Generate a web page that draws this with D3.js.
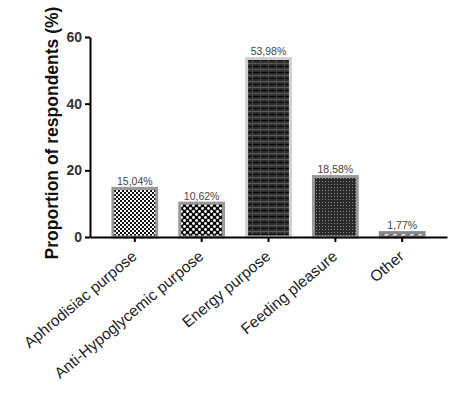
<!DOCTYPE html>
<html>
<head>
<meta charset="utf-8">
<script src="https://cdn.jsdelivr.net/npm/d3@7"></script>
<style>
	body { margin: 0; background: #fff; }
	svg { display: block; font-family: 'Liberation Sans', Arial, sans-serif; }
</style>
</head>
<body>
<svg id="chart" width="451" height="397"></svg>
<script>
// data
const categories = ['Aphrodisiac purpose', 'Anti-Hypoglycemic purpose', 'Energy purpose', 'Feeding pleasure', 'Other'];
const values = [15.04, 10.62, 53.98, 18.58, 1.77];
const valueLabels = ['15,04%', '10,62%', '53,98%', '18,58%', '1,77%'];
const yTicks = [0, 20, 40, 60];
const patternIds = ['checker', 'dots', 'grid', 'fine', 'stripes'];
const borderColors = ['#9a9a9a', '#9a9a9a', '#cfcfcf', '#9a9a9a', '#8a8a8a'];

const svg = d3.select('#chart');
const [plotLeft, plotRight, plotTop, plotBottom] = [90, 447, 37, 237];

const x = d3.scaleBand(categories, [plotLeft, plotRight]).paddingInner(0.3).paddingOuter(0.32);
const y = d3.scaleLinear([0, 60], [plotBottom, plotTop]);

// 막대 채우기 패턴
const defs = svg.append('defs');

const p1 = defs.append('pattern').attr('id', 'checker').attr('patternUnits', 'userSpaceOnUse').attr('width', 4).attr('height', 4);
p1.append('rect').attr('width', 4).attr('height', 4).attr('fill', '#fff');
p1.append('rect').attr('width', 2).attr('height', 2).attr('fill', '#111');
p1.append('rect').attr('x', 2).attr('y', 2).attr('width', 2).attr('height', 2).attr('fill', '#111');

const p2 = defs.append('pattern').attr('id', 'dots').attr('patternUnits', 'userSpaceOnUse').attr('width', 6).attr('height', 6);
p2.append('rect').attr('width', 6).attr('height', 6).attr('fill', '#0a0a0a');
p2.append('circle').attr('cx', 1.5).attr('cy', 1.5).attr('r', 1.4).attr('fill', '#fff');
p2.append('circle').attr('cx', 4.5).attr('cy', 4.5).attr('r', 1.4).attr('fill', '#fff');

const p3 = defs.append('pattern').attr('id', 'grid').attr('patternUnits', 'userSpaceOnUse').attr('width', 8).attr('height', 6);
p3.append('rect').attr('width', 8).attr('height', 6).attr('fill', '#2e2e2e');
p3.append('rect').attr('y', 0).attr('width', 8).attr('height', 1).attr('fill', '#050505');
p3.append('rect').attr('y', 3).attr('width', 8).attr('height', 1).attr('fill', '#5a5a5a');
p3.append('rect').attr('x', 4).attr('width', 1).attr('height', 6).attr('fill', '#4a4a4a');

const p4 = defs.append('pattern').attr('id', 'fine').attr('patternUnits', 'userSpaceOnUse').attr('width', 3).attr('height', 3);
p4.append('rect').attr('width', 3).attr('height', 3).attr('fill', '#2a2a2a');
p4.append('rect').attr('x', 1).attr('y', 1).attr('width', 1).attr('height', 1).attr('fill', '#8a8a8a');

const p5 = defs.append('pattern').attr('id', 'stripes').attr('patternUnits', 'userSpaceOnUse').attr('width', 6).attr('height', 6)
	.attr('patternTransform', 'rotate(45)');
p5.append('rect').attr('width', 6).attr('height', 6).attr('fill', '#6e6e6e');
p5.append('rect').attr('width', 2.5).attr('height', 6).attr('fill', '#fff');

// bars
const bars = svg.append('g').selectAll('g').data(categories).join('g');
bars.append('rect')
	.attr('x', d => x(d) + 1.5)
	.attr('y', (d, i) => y(values[i]) + 1.5)
	.attr('width', x.bandwidth() - 3)
	.attr('height', (d, i) => plotBottom - y(values[i]) - 1.5)
	.attr('fill', (d, i) => `url(#${patternIds[i]})`)
	.attr('stroke', (d, i) => borderColors[i])
	.attr('stroke-width', 3);

bars.append('text')
	.attr('x', d => x(d) + x.bandwidth() / 2)
	.attr('y', (d, i) => y(values[i]) - 2)
	.attr('text-anchor', 'middle')
	.attr('font-size', 10.5)
	.attr('fill', '#444')
	.text((d, i) => valueLabels[i]);

// y axis
const yAxis = svg.append('g')
	.attr('transform', `translate(${plotLeft},0)`)
	.call(d3.axisLeft(y).tickValues(yTicks).tickSize(5).tickSizeOuter(0).tickPadding(3));
yAxis.select('.domain').attr('stroke', '#000').attr('stroke-width', 2);
yAxis.selectAll('.tick line').attr('stroke', '#000').attr('stroke-width', 2);
yAxis.selectAll('.tick text').attr('font-size', 14).attr('font-weight', 'bold').attr('fill', '#333').attr('font-family', 'Liberation Sans, Arial');

// x axis: 라벨은 약 40도 기울임
const xAxis = svg.append('g')
	.attr('transform', `translate(0,${plotBottom})`)
	.call(d3.axisBottom(x).tickSize(5).tickSizeOuter(0).tickPadding(6));
xAxis.select('.domain').attr('stroke', '#000').attr('stroke-width', 2);
xAxis.selectAll('.tick line').attr('stroke', '#000').attr('stroke-width', 2);
xAxis.selectAll('.tick text')
	.attr('font-size', 15.5)
	.attr('fill', '#222')
	.attr('font-family', 'Liberation Sans, Arial')
	.attr('text-anchor', 'end')
	.attr('dy', 0)
	.attr('transform', 'translate(3,21) rotate(-40)')
	.attr('y', 0);

// y axis title
svg.append('text')
	.attr('transform', `translate(58,133) rotate(-90)`)
	.attr('text-anchor', 'middle')
	.attr('font-size', 17.5)
	.attr('font-weight', 'bold')
	.attr('fill', '#111')
	.text('Proportion of respondents (%)');
</script>
</body>
</html>
